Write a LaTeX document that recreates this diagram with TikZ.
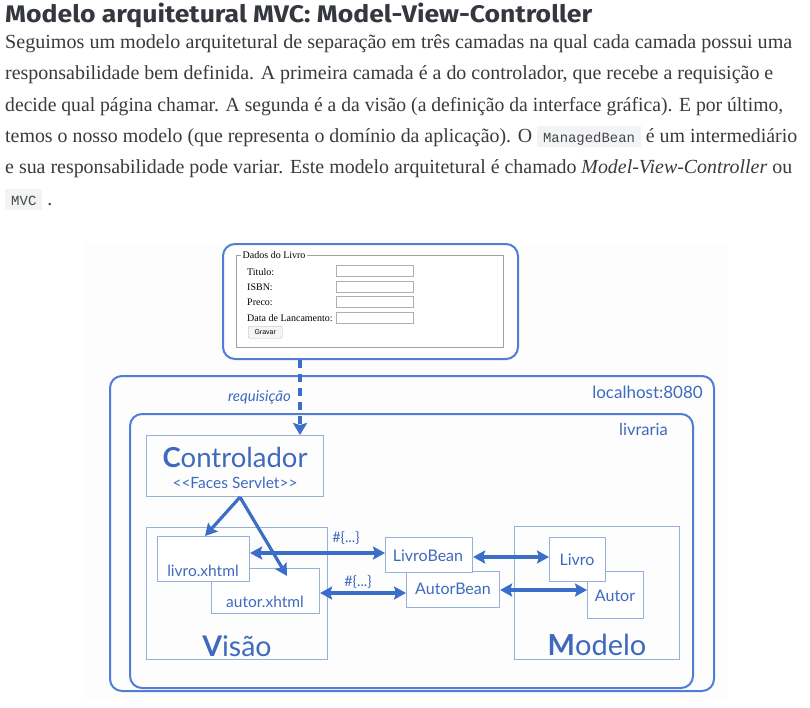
\documentclass[tikz,border=0pt]{standalone}
\usepackage{fontspec}
\usepackage{graphicx}
\usetikzlibrary{arrows.meta}
\setmainfont{Liberation Serif}
\newfontfamily\titlefont{Fira Sans}
\newfontfamily\gill{Lato}
\newfontfamily\codefont{Liberation Mono}
\newfontfamily\formfont{Liberation Serif}
\newfontfamily\btnfont{Liberation Sans}
\definecolor{rblue}{RGB}{80,125,215}
\definecolor{iblue}{RGB}{150,176,220}
\definecolor{tblue}{RGB}{62,106,190}
\definecolor{ablue}{RGB}{58,110,200}
\definecolor{bodygray}{RGB}{58,58,58}
\definecolor{titlegray}{RGB}{52,56,62}
\definecolor{codebg}{RGB}{242,243,245}
\definecolor{codegray}{RGB}{70,70,70}
\definecolor{pagebg}{RGB}{253,253,253}
\definecolor{formgray}{RGB}{160,160,160}
\definecolor{inputgray}{RGB}{175,175,175}
\newcommand\codebox[1]{{\setlength{\fboxsep}{0pt}\colorbox{codebg}{\rule[-5pt]{0pt}{21pt}\hspace{6pt}{\codefont\fontsize{14}{16}\selectfont\color{codegray}#1}\hspace{6pt}}}}
\tikzset{
  rbox/.style={draw=rblue, line width=2pt, rounded corners=12pt, inner sep=0pt, anchor=north west},
  ibox/.style={draw=iblue, line width=1.1pt, inner sep=0pt, anchor=north west},
  dtext/.style={text=tblue, inner sep=0pt, anchor=base},
  bodyline/.style={anchor=base west, inner sep=0pt, text=bodygray, font=\fontsize{20}{24}\selectfont},
  flbl/.style={anchor=west, inner sep=0pt, font=\formfont\fontsize{10}{12}\selectfont},
  inbox/.style={draw=inputgray, line width=0.8pt, fill=white, anchor=west, inner sep=0pt, minimum width=77pt, minimum height=11pt},
  arrtwo/.style={draw=ablue, line width=3.2pt, {Stealth[length=12pt,width=13pt,inset=2pt]}-{Stealth[length=12pt,width=13pt,inset=2pt]}},
  arrone/.style={draw=ablue, line width=3.2pt, -{Stealth[length=12pt,width=13pt,inset=2pt]}},
  dasharr/.style={draw=ablue, line width=4pt, dash pattern=on 8pt off 6pt, -{Stealth[length=12pt,width=14pt,inset=2pt]}}
}
\begin{document}
\begin{tikzpicture}[x=1pt,y=-1pt]
\path[use as bounding box] (0,0) rectangle (810,707);
% ---- text above
\node[anchor=base west, inner sep=0pt, text=titlegray, font=\titlefont\bfseries\fontsize{24}{28}\selectfont] (title) at (5,22) {\resizebox{587pt}{\height}{Modelo arquitetural MVC: Model-View-Controller}};
\node[bodyline] (l1) at (5,48.5) {\resizebox{787pt}{\height}{Seguimos um modelo arquitetural de separação em três camadas na qual cada camada possui uma}};
\node[bodyline] (l2) at (5,79.8) {\resizebox{768pt}{\height}{responsabilidade bem definida. A primeira camada é a do controlador, que recebe a requisição e}};
\node[bodyline] (l3) at (5,111.1) {\resizebox{778pt}{\height}{decide qual página chamar. A segunda é a da visão (a definição da interface gráfica). E por último,}};
\node[bodyline] (l4) at (5,142.4) {\resizebox{792pt}{\height}{temos o nosso modelo (que representa o domínio da aplicação). O \codebox{ManagedBean} é um intermediário}};
\node[bodyline] (l5) at (5,173.7) {\resizebox{787pt}{\height}{e sua responsabilidade pode variar. Este modelo arquitetural é chamado \textit{Model-View-Controller} ou}};
\node[bodyline] (l6) at (5,205) {\codebox{MVC} .};
% ---- diagram background
\fill[pagebg] (85,243) rectangle (728,700);
% ---- form
\node[rbox, fill=white, minimum width=295pt, minimum height=115pt] (form) at (222,243) {};
\node[draw=formgray, line width=1.3pt, anchor=north west, inner sep=0pt, minimum width=267pt, minimum height=92pt] (fs) at (236,255) {};
\node[anchor=west, fill=white, inner sep=1.5pt, font=\formfont\fontsize{10}{12}\selectfont] (leg) at (241,255) {Dados do Livro};
\node[flbl] (lt) at (247,272) {Titulo:};
\node[flbl] (li) at (247,287) {ISBN:};
\node[flbl] (lp) at (247,302) {Preco:};
\node[flbl] (ld) at (247,318) {Data de Lancamento:};
\node[inbox] (it) at (336,271) {};
\node[inbox] (ii) at (336,287) {};
\node[inbox] (ip) at (336,302) {};
\node[inbox] (id) at (336,318) {};
\node[draw=gray!55, fill=gray!8, rounded corners=2pt, anchor=north west, inner sep=0pt, minimum width=34pt, minimum height=12pt, font=\btnfont\fontsize{7}{8}\selectfont] (btn) at (248,326) {Gravar};
% ---- server boxes
\node[rbox, minimum width=604pt, minimum height=315pt] (host) at (109,375) {};
\node[dtext, anchor=base east, font=\gill\fontsize{17}{19}\selectfont] (hostl) at (703,398) {localhost:8080};
\node[rbox, minimum width=563pt, minimum height=274pt] (app) at (129,413) {};
\node[dtext, anchor=base east, font=\gill\fontsize{16.5}{18}\selectfont] (appl) at (668,435) {livraria};
% ---- controller
\node[ibox, minimum width=177pt, minimum height=61pt] (ctrl) at (146,435) {};
\node[dtext, font=\gill\fontsize{27.5}{30}\selectfont] (ctrlt) at (235,467) {{\bfseries C}ontrolador};
\node[dtext, font=\gill\fontsize{15.5}{18}\selectfont] (ctrls) at (235,488) {<{}<Faces Servlet>{}>};
% ---- request arrow
\coordinate (rq) at (300,0);
\draw[dasharr] (form.south -| rq) -- (ctrl.north -| rq);
\node[dtext, anchor=base east, font=\gill\itshape\fontsize{15}{17}\selectfont] (reql) at (291,401) {requisição};
% ---- view
\node[ibox, minimum width=181pt, minimum height=132pt] (view) at (146,527) {};
\node[ibox, fill=white, minimum width=108pt, minimum height=45pt] (ax) at (211,568) {};
\node[ibox, fill=white, minimum width=92pt, minimum height=45pt] (lx) at (157,536) {};
\node[dtext, font=\gill\fontsize{15.5}{18}\selectfont] (lxt) at (203,576) {livro.xhtml};
\node[dtext, font=\gill\fontsize{15.5}{18}\selectfont] (axt) at (265,607) {autor.xhtml};
\node[dtext, font=\gill\fontsize{28.5}{30}\selectfont] (viewt) at (237,656) {{\bfseries V}isão};
% ---- beans
\node[ibox, fill=white, minimum width=93pt, minimum height=36pt] (ab) at (406,571) {};
\node[ibox, fill=white, minimum width=87pt, minimum height=35pt] (lb) at (385,537) {};
\node[dtext, font=\gill\fontsize{16}{18}\selectfont] (lbt) at (428,561) {LivroBean};
\node[dtext, font=\gill\fontsize{16}{18}\selectfont] (abt) at (453,594) {AutorBean};
% ---- model
\node[ibox, minimum width=165pt, minimum height=133pt] (model) at (514,526) {};
\node[ibox, fill=white, minimum width=56pt, minimum height=47pt] (au) at (587,571) {};
\node[ibox, fill=white, minimum width=56pt, minimum height=44pt] (lv) at (549,537) {};
\node[dtext, font=\gill\fontsize{16}{18}\selectfont] (lvt) at (577,565) {Livro};
\node[dtext, font=\gill\fontsize{16}{18}\selectfont] (aut) at (615,601) {Autor};
\node[dtext, font=\gill\fontsize{29}{31}\selectfont] (modelt) at (597,655) {{\bfseries M}odelo};
% ---- EL labels
\node[dtext, font=\gill\fontsize{14.5}{16}\selectfont] (el1) at (346,542) {\#\{...\}};
\node[dtext, font=\gill\fontsize{14.5}{16}\selectfont] (el2) at (358,586) {\#\{...\}};
% ---- connectors
\coordinate (r1) at (0,553);
\coordinate (r2) at (0,593);
\coordinate (r3) at (0,557);
\coordinate (r4) at (0,590);
\draw[arrtwo] (lx.east |- r1) -- (lb.west |- r1);
\draw[arrtwo] (ax.east |- r2) -- (ab.west |- r2);
\draw[arrtwo] (lb.east |- r3) -- (lv.west |- r3);
\draw[arrtwo] (ab.east |- r4) -- (au.west |- r4);
\coordinate (apex) at (240,0);
\coordinate (t1) at (205,0);
\coordinate (t2) at (287,576);
\draw[arrone] (ctrl.south -| apex) -- (lx.north -| t1);
\draw[arrone] (ctrl.south -| apex) -- (t2);
\end{tikzpicture}
\end{document}
